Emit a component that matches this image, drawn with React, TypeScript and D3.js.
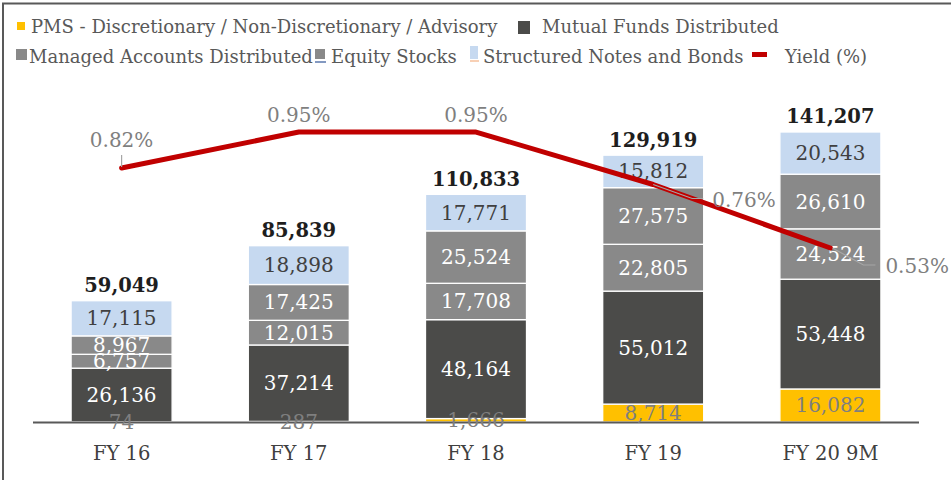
import React from "react";
import * as d3 from "d3";

const categories = ["FY 16", "FY 17", "FY 18", "FY 19", "FY 20 9M"];
const pms = [74, 287, 1666, 8714, 16082];
const mutualFunds = [26136, 37214, 48164, 55012, 53448];
const managedAccounts = [6757, 12015, 17708, 22805, 24524];
const equityStocks = [8967, 17425, 25524, 27575, 26610];
const structuredNotes = [17115, 18898, 17771, 15812, 20543];
const totals = [59049, 85839, 110833, 129919, 141207];
const yieldPct = [0.82, 0.95, 0.95, 0.76, 0.53];
const yieldLabels = ["0.82%", "0.95%", "0.95%", "0.76%", "0.53%"];

const seriesNames = [
  "PMS - Discretionary / Non-Discretionary / Advisory",
  "Mutual Funds Distributed",
  "Managed Accounts Distributed",
  "Equity Stocks",
  "Structured Notes and Bonds",
  "Yield (%)",
];

const W = 951;
const H = 480;
const FONT = "'DejaVu Serif', serif";

const seriesList = [
  { key: "pms", values: pms, fill: "#FFC000", label: "#7F7F7F" },
  { key: "mf", values: mutualFunds, fill: "#4B4B49", label: "#FFFFFF" },
  { key: "ma", values: managedAccounts, fill: "#898989", label: "#FFFFFF" },
  { key: "eq", values: equityStocks, fill: "#898989", label: "#FFFFFF" },
  { key: "sn", values: structuredNotes, fill: "#C6D9F0", label: "#404040" },
];

export default function App() {
  const x = d3
    .scaleBand<string>()
    .domain(categories)
    .range([33, 919])
    .paddingInner(0.43)
    .paddingOuter(0.215);
  const y = d3.scaleLinear().domain([0, 160000]).range([422, 93.4]);
  const yR = d3.scaleLinear().domain([-0.1, 1.1]).range([422, 90.6]);

  const rows = categories.map((c, i) => {
    const r: any = { cat: c };
    seriesList.forEach((s) => (r[s.key] = s.values[i]));
    return r;
  });
  const stacked = d3.stack<any>().keys(seriesList.map((s) => s.key))(rows);

  const fmt = d3.format(",");
  const cx = (c: string) => (x(c) as number) + x.bandwidth() / 2;

  const linePath = d3
    .line<number>()
    .x((_, i) => cx(categories[i]))
    .y((v) => yR(v))(yieldPct) as string;

  // yield label placements (offsets from the point)
  const pts = yieldPct.map((v, i) => ({ px: cx(categories[i]), py: yR(v) }));

  return (
    <svg
      width={W}
      height={H}
      style={{ position: "absolute", left: 0, top: 0, background: "#fff" }}
      fontFamily={FONT}
    >
      <rect x={0} y={0} width={W} height={H} fill="#fff" />
      {/* frame */}
      <line x1={2} x2={W} y1={3.5} y2={3.5} stroke="#595959" strokeWidth={2} />
      <line x1={3} x2={3} y1={3} y2={H} stroke="#595959" strokeWidth={2} />

      {/* legend */}
      <g fontSize={18} fill="#595959">
        <rect x={17} y={22} width={8} height={8} fill="#FFC000" />
        <text x={31} y={33}>{seriesNames[0]}</text>
        <rect x={518} y={21} width={12} height={13} fill="#4B4B49" />
        <text x={542} y={33}>{seriesNames[1]}</text>

        <rect x={16} y={49} width={11} height={11} fill="#898989" />
        <text x={29} y={63}>{seriesNames[2]}</text>
        <rect x={315} y={49} width={10} height={10} fill="#898989" />
        <line x1={315} x2={326} y1={62} y2={62} stroke="#2F5597" strokeWidth={1.2} />
        <text x={331} y={63}>{seriesNames[3]}</text>
        <rect x={470} y={46} width={8} height={13} fill="#C6D9F0" />
        <line x1={470} x2={479} y1={61} y2={61} stroke="#F4B183" strokeWidth={1.2} />
        <text x={483} y={63}>{seriesNames[4]}</text>
        <rect x={752} y={52} width={15} height={5} fill="#C00000" />
        <text x={785} y={63}>{seriesNames[5]}</text>
      </g>

      {/* bars */}
      {stacked.map((layer, si) => (
        <g key={layer.key}>
          {layer.map((d, i) => (
            <rect
              key={i}
              x={x(categories[i])}
              y={y(d[1])}
              width={x.bandwidth()}
              height={Math.max(0, y(d[0]) - y(d[1]))}
              fill={seriesList[si].fill}
              stroke="#fff"
              strokeWidth={1.3}
            />
          ))}
        </g>
      ))}

      {/* axis line */}
      <line x1={33} x2={919} y1={422.5} y2={422.5} stroke="#595959" strokeWidth={2} />

      {/* segment labels */}
      {stacked.map((layer, si) => (
        <g key={"l" + layer.key} fontSize={20} fill={seriesList[si].label} textAnchor="middle">
          {layer.map((d, i) => (
            <text
              key={i}
              x={cx(categories[i])}
              y={(y(d[0]) + y(d[1])) / 2}
              dominantBaseline="central"
            >
              {fmt(seriesList[si].values[i])}
            </text>
          ))}
        </g>
      ))}

      {/* totals */}
      <g fontSize={19.5} fontWeight="bold" fill="#1E1E1E" textAnchor="middle">
        {totals.map((t, i) => (
          <text key={i} x={cx(categories[i])} y={y(t) - 15} dominantBaseline="central">
            {fmt(t)}
          </text>
        ))}
      </g>

      {/* category labels */}
      <g fontSize={19.5} fill="#404040" textAnchor="middle">
        {categories.map((c) => (
          <text key={c} x={cx(c)} y={453} dominantBaseline="central">
            {c}
          </text>
        ))}
      </g>

      {/* yield line */}
      <path
        d={linePath}
        fill="none"
        stroke="#C00000"
        strokeWidth={5}
        strokeLinejoin="round"
        strokeLinecap="round"
      />

      {/* yield leader lines */}
      <g fill="none" stroke="#A6A6A6" strokeWidth={1.2}>
        <line x1={pts[0].px} x2={pts[0].px} y1={pts[0].py - 13} y2={pts[0].py - 1} />
        <polyline
          points={`${pts[3].px},${pts[3].py} ${pts[3].px + 39},${pts[3].py + 14} ${pts[3].px + 50},${pts[3].py + 14}`}
        />
        <polyline
          points={`${pts[4].px + 2},${pts[4].py} ${pts[4].px + 33},${pts[4].py + 17} ${pts[4].px + 45},${pts[4].py + 17}`}
        />
      </g>

      {/* yield labels */}
      <g fontSize={20} fill="#7F7F7F">
        <text x={pts[0].px} y={pts[0].py - 28} textAnchor="middle" dominantBaseline="central">
          {yieldLabels[0]}
        </text>
        <text x={pts[1].px} y={pts[1].py - 17} textAnchor="middle" dominantBaseline="central">
          {yieldLabels[1]}
        </text>
        <text x={pts[2].px} y={pts[2].py - 17} textAnchor="middle" dominantBaseline="central">
          {yieldLabels[2]}
        </text>
        <text x={pts[3].px + 59} y={pts[3].py + 16} dominantBaseline="central">
          {yieldLabels[3]}
        </text>
        <text x={pts[4].px + 55} y={pts[4].py + 18} dominantBaseline="central">
          {yieldLabels[4]}
        </text>
      </g>
    </svg>
  );
}
